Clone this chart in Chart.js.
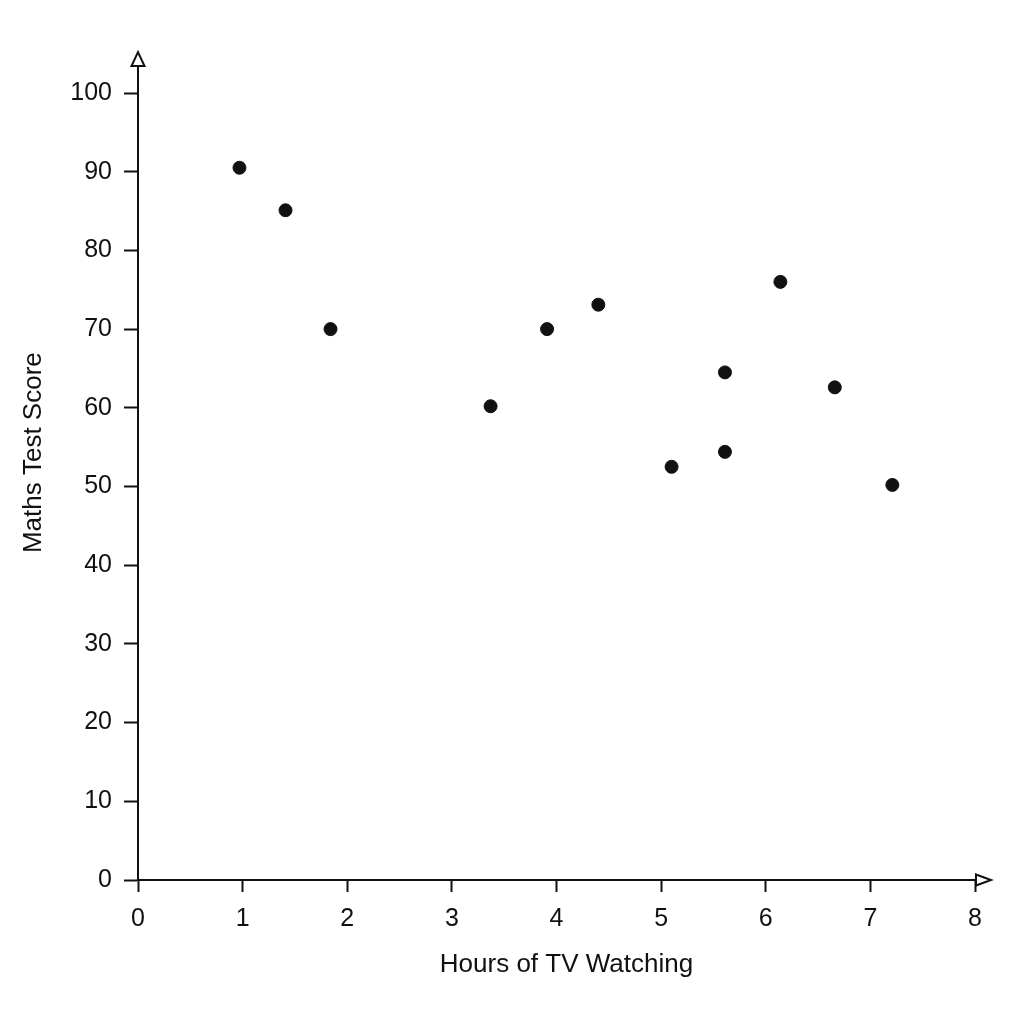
<!DOCTYPE html>
<html lang="en">
<head>
    <meta charset="UTF-8">
    <title>Maths Test Score vs Hours of TV Watching</title>
    <script src="https://cdn.jsdelivr.net/npm/chart.js"></script>
    <style>
        body {
            margin: 0;
            padding: 0;
            background-color: #ffffff;
        }
        #wrap {
            width: 1024px;
            height: 1024px;
        }
    </style>
</head>
<body>
    <div id="wrap">
        <canvas id="chart" width="1024" height="1024"></canvas>
    </div>

    <script>
        // datos
        const hoursTV = [0.97, 1.41, 1.84, 3.37, 3.91, 4.40, 5.10, 5.61, 5.61, 6.14, 6.66, 7.21];
        const mathsScore = [90.5, 85.1, 70.0, 60.2, 70.0, 73.1, 52.5, 64.5, 54.4, 76.0, 62.6, 50.2];
        const xTicks = [0, 1, 2, 3, 4, 5, 6, 7, 8];
        const yTicks = [0, 10, 20, 30, 40, 50, 60, 70, 80, 90, 100];
        const xTitle = 'Hours of TV Watching';
        const yTitle = 'Maths Test Score';

        const ink = '#111111';
        const fontFamily = '"Liberation Sans", Arial, sans-serif';

        // flechas huecas al final de cada eje + titulos de ejes
        const arrowPlugin = {
            id: 'arrows',
            afterDraw(chart) {
                const ctx = chart.ctx;
                const a = chart.chartArea;
                ctx.save();
                ctx.strokeStyle = ink;
                ctx.fillStyle = '#ffffff';
                ctx.lineWidth = 2;
                // extension eje y
                ctx.beginPath();
                ctx.moveTo(a.left, a.top);
                ctx.lineTo(a.left, a.top - 27);
                ctx.stroke();
                // flecha y
                ctx.beginPath();
                ctx.moveTo(a.left - 6.5, a.top - 27);
                ctx.lineTo(a.left + 6.5, a.top - 27);
                ctx.lineTo(a.left, a.top - 41);
                ctx.closePath();
                ctx.fill();
                ctx.stroke();
                // flecha x
                ctx.beginPath();
                ctx.moveTo(a.right + 1, a.bottom - 5.5);
                ctx.lineTo(a.right + 1, a.bottom + 5.5);
                ctx.lineTo(a.right + 16, a.bottom);
                ctx.closePath();
                ctx.fill();
                ctx.stroke();

                // titulos
                ctx.fillStyle = ink;
                ctx.font = '26px ' + fontFamily;
                ctx.textAlign = 'center';
                ctx.textBaseline = 'middle';
                ctx.fillText(xTitle, (a.left + a.right) / 2 + 10, a.bottom + 85);
                ctx.translate(34, a.top + (a.bottom - a.top) * 0.457);
                ctx.rotate(-Math.PI / 2);
                ctx.fillText(yTitle, 0, 0);
                ctx.restore();
            }
        };

        const ctx = document.getElementById('chart').getContext('2d');
        const chart = new Chart(ctx, {
            type: 'scatter',
            data: {
                datasets: [{
                    label: yTitle,
                    data: hoursTV.map((h, i) => ({ x: h, y: mathsScore[i] })),
                    backgroundColor: ink,
                    borderColor: ink,
                    pointRadius: 6.5,
                    pointHoverRadius: 6.5
                }]
            },
            options: {
                responsive: false,
                animation: false,
                devicePixelRatio: 1,
                layout: {
                    padding: { top: 93, right: 49, left: 0, bottom: 0 }
                },
                plugins: {
                    legend: { display: false },
                    tooltip: { enabled: false }
                },
                scales: {
                    x: {
                        type: 'linear',
                        min: 0,
                        max: 8,
                        afterBuildTicks: (s) => { s.ticks = xTicks.map(v => ({ value: v })); },
                        afterFit: (s) => { s.height = 1024 - 880; },
                        grid: {
                            drawOnChartArea: false,
                            drawTicks: true,
                            tickLength: 12,
                            tickWidth: 2,
                            tickColor: ink
                        },
                        border: { display: true, color: ink, width: 2 },
                        ticks: {
                            color: ink,
                            padding: 12,
                            font: { family: fontFamily, size: 25 }
                        }
                    },
                    y: {
                        type: 'linear',
                        min: 0,
                        max: 100,
                        afterBuildTicks: (s) => { s.ticks = yTicks.map(v => ({ value: v })); },
                        afterFit: (s) => { s.width = 138; },
                        grid: {
                            drawOnChartArea: false,
                            drawTicks: true,
                            tickLength: 14,
                            tickWidth: 2,
                            tickColor: ink
                        },
                        border: { display: true, color: ink, width: 2 },
                        ticks: {
                            color: ink,
                            padding: 12,
                            font: { family: fontFamily, size: 25 }
                        }
                    }
                }
            },
            plugins: [arrowPlugin]
        });
    </script>
</body>
</html>
